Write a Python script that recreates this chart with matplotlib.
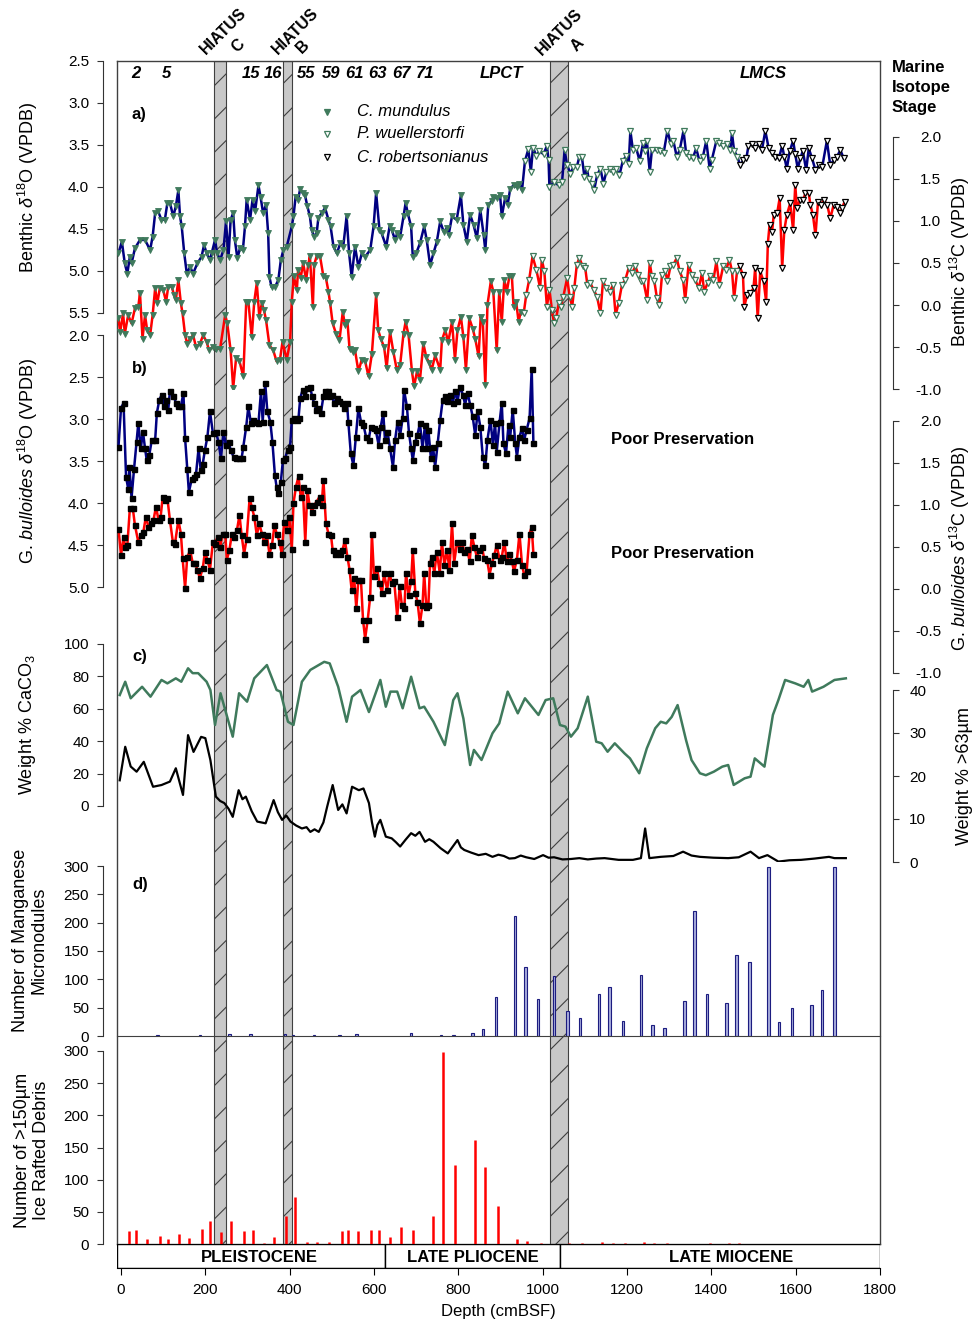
import numpy as np
import matplotlib
matplotlib.use('Agg')
import matplotlib.pyplot as plt
from matplotlib.lines import Line2D

plt.rcParams['font.family'] = ['Liberation Sans', 'DejaVu Sans']
plt.rcParams['mathtext.fontset'] = 'custom'
plt.rcParams['mathtext.rm'] = 'Liberation Sans'
plt.rcParams['mathtext.it'] = 'Liberation Sans:italic'
plt.rcParams['axes.unicode_minus'] = False
plt.rcParams['hatch.linewidth'] = 0.8

# ---------------- data ----------------
# a) benthic d18O
a18_depth = [-6, 2, 9, 15, 21, 25, 33, 45, 57, 69, 75, 81, 88, 96, 104, 110, 116, 124, 130, 136, 140, 144, 150, 156,
             164, 171, 181, 191, 197, 203, 211, 215, 223, 228, 235, 243, 249, 255, 260, 266, 270, 276, 282, 289, 294,
             298, 306, 312, 318, 326, 331, 337, 344, 349, 352, 357, 365, 373, 379, 385, 393, 405, 409, 414, 420, 425,
             431, 436, 442, 448, 452, 458, 464, 468, 476, 484, 492, 497, 504, 512, 520, 527, 535, 541, 547, 555, 563,
             571, 579, 591, 599, 605, 613, 618, 629, 637, 642, 650, 655, 662, 670, 675, 680, 688, 692, 700, 709, 719,
             725, 733, 741, 749, 757, 765, 773, 777, 785, 796, 806, 812, 820, 828, 836, 844, 852, 860, 864, 871, 879,
             883, 891, 899, 903, 911, 917, 923, 931, 939, 945, 951, 958, 966, 972, 977, 985, 992, 1002, 1010, 1014,
             1016, 1027, 1038, 1046, 1052, 1058, 1066, 1073, 1081, 1087, 1093, 1099, 1105, 1109, 1117, 1122, 1129,
             1137, 1144, 1151, 1160, 1166, 1174, 1182, 1190, 1198, 1204, 1208, 1214, 1222, 1230, 1238, 1243, 1247,
             1254, 1259, 1271, 1279, 1287, 1296, 1304, 1310, 1318, 1325, 1334, 1340, 1348, 1356, 1364, 1372, 1380,
             1388, 1396, 1401, 1412, 1419, 1427, 1437, 1445, 1449, 1454, 1462, 1468, 1476, 1483, 1488, 1496, 1504,
             1512, 1520, 1528, 1536, 1544, 1552, 1560, 1568, 1573, 1579, 1586, 1594, 1599, 1605, 1611, 1617, 1625,
             1631, 1639, 1647, 1655, 1663, 1674, 1682, 1690, 1698, 1706, 1714]
a18_value = [4.79, 4.65, 4.91, 5.03, 4.83, 4.91, 4.73, 4.63, 4.63, 4.75, 4.59, 4.31, 4.29, 4.39, 4.39, 4.19, 4.19, 4.35,
             4.23, 4.04, 4.35, 4.47, 4.79, 5.03, 4.95, 5.03, 4.91, 4.83, 4.69, 4.79, 4.87, 4.79, 4.63, 4.79, 4.87, 4.75,
             4.41, 4.83, 4.39, 4.31, 4.63, 4.85, 4.73, 4.75, 4.47, 4.15, 4.39, 4.15, 4.29, 3.98, 4.12, 4.31, 4.21, 4.55,
             5.07, 5.19, 5.19, 5.11, 4.87, 4.75, 4.71, 4.47, 4.35, 4.12, 4.15, 4.02, 4.07, 4.09, 4.23, 4.35, 4.51, 4.59,
             4.55, 4.37, 4.31, 4.25, 4.39, 4.47, 4.71, 4.79, 4.67, 4.71, 4.35, 4.79, 5.07, 4.71, 4.95, 4.79, 4.83, 4.75,
             4.47, 4.07, 4.51, 4.55, 4.71, 4.47, 4.51, 4.63, 4.55, 4.59, 4.35, 4.19, 4.31, 4.47, 4.83, 4.79, 4.67, 4.47,
             4.63, 4.93, 4.79, 4.65, 4.41, 4.53, 4.49, 4.57, 4.35, 4.39, 4.10, 4.45, 4.65, 4.33, 4.45, 4.61, 4.27, 4.57,
             4.75, 4.21, 4.17, 4.12, 4.13, 4.10, 4.35, 4.13, 4.21, 4.02, 3.98, 4.00, 3.96, 4.04, 3.69, 3.55, 3.82, 3.53,
             3.63, 3.57, 3.61, 3.51, 3.68, 4.00, 3.94, 3.98, 3.94, 3.56, 3.74, 3.84, 3.76, 3.76, 3.64, 3.64, 3.88, 3.78,
             3.90, 3.96, 4.04, 3.86, 3.78, 3.96, 3.82, 3.78, 3.82, 3.78, 3.86, 3.69, 3.63, 3.73, 3.33, 3.56, 3.54, 3.69,
             3.48, 3.57, 3.45, 3.82, 3.56, 3.56, 3.57, 3.59, 3.33, 3.49, 3.45, 3.64, 3.56, 3.33, 3.59, 3.64, 3.66, 3.54,
             3.69, 3.64, 3.45, 3.78, 3.68, 3.45, 3.48, 3.51, 3.49, 3.56, 3.36, 3.57, 3.64, 3.74, 3.68, 3.66, 3.51, 3.49,
             3.54, 3.49, 3.56, 3.33, 3.54, 3.59, 3.64, 3.66, 3.51, 3.64, 3.78, 3.57, 3.45, 3.61, 3.78, 3.66, 3.57, 3.80,
             3.54, 3.66, 3.80, 3.74, 3.76, 3.45, 3.74, 3.68, 3.64, 3.56, 3.66]

# a) benthic d13C
a13_depth = [-6, -2, 5, 9, 17, 25, 33, 41, 45, 51, 57, 62, 69, 75, 81, 86, 92, 100, 107, 112, 120, 126, 130, 136, 142,
             146, 152, 157, 164, 171, 178, 187, 195, 203, 209, 217, 225, 235, 247, 252, 260, 266, 273, 281, 290, 297,
             302, 310, 316, 322, 328, 334, 339, 344, 352, 361, 369, 377, 383, 393, 401, 405, 410, 417, 420, 426, 432,
             439, 444, 448, 455, 458, 464, 472, 480, 486, 492, 496, 502, 510, 518, 526, 531, 537, 542, 550, 555, 563,
             571, 579, 587, 595, 605, 610, 616, 624, 630, 638, 646, 654, 662, 670, 675, 682, 690, 695, 702, 709, 717,
             724, 731, 737, 745, 757, 761, 769, 776, 785, 792, 798, 806, 812, 818, 826, 834, 840, 848, 853, 858, 864,
             869, 877, 883, 891, 897, 903, 909, 915, 921, 927, 931, 937, 943, 948, 955, 961, 968, 976, 985, 994, 998,
             1004, 1010, 1016, 1022, 1027, 1032, 1038, 1043, 1049, 1058, 1064, 1070, 1075, 1081, 1087, 1095, 1101,
             1106, 1113, 1121, 1129, 1137, 1143, 1151, 1159, 1167, 1173, 1180, 1188, 1196, 1204, 1212, 1220, 1227,
             1233, 1239, 1248, 1254, 1259, 1265, 1271, 1277, 1283, 1291, 1296, 1303, 1310, 1318, 1325, 1333, 1338,
             1346, 1354, 1362, 1370, 1378, 1383, 1391, 1397, 1405, 1412, 1419, 1428, 1435, 1443, 1449, 1454, 1461,
             1467, 1475, 1478, 1485, 1492, 1500, 1504, 1510, 1516, 1524, 1530, 1534, 1538, 1544, 1548, 1556, 1562,
             1568, 1573, 1579, 1587, 1594, 1599, 1603, 1610, 1618, 1623, 1631, 1635, 1641, 1647, 1653, 1659, 1667,
             1675, 1682, 1690, 1697, 1705, 1710, 1716]
a13_value = [-0.16, -0.32, -0.10, -0.34, -0.12, -0.22, -0.04, -0.02, 0.14, -0.40, -0.12, -0.30, -0.36, -0.12, 0.20,
             0.02, 0.20, 0.18, 0.04, 0.22, 0.22, 0.12, 0.06, 0.30, 0.02, -0.10, -0.36, -0.46, -0.40, -0.36, -0.50,
             -0.46, -0.36, -0.44, -0.54, -0.50, -0.52, -0.52, -0.12, -0.22, -0.54, -0.99, -0.63, -0.67, -0.85, 0.04,
             0.04, -0.38, 0.04, 0.26, -0.14, 0.02, -0.06, -0.18, -0.48, -0.54, -0.67, -0.65, -0.44, -0.65, -0.44, 0.04,
             0.34, 0.18, 0.42, 0.32, 0.50, 0.30, 0.48, 0.58, -0.02, 0.48, 0.58, 0.58, 0.34, 0.32, 0.16, 0.02, -0.22,
             -0.34, -0.42, -0.08, -0.24, -0.20, -0.52, -0.56, -0.54, -0.79, -0.65, -0.67, -0.85, -0.58, 0.12, -0.30,
             -0.40, -0.50, -0.75, -0.32, -0.56, -0.77, -0.71, -0.34, -0.20, -0.36, -0.79, -0.97, -0.79, -0.89, -0.46,
             -0.62, -0.69, -0.77, -0.60, -0.77, -0.42, -0.30, -0.44, -0.20, -0.65, -0.30, -0.14, -0.38, -0.77, -0.16,
             -0.28, -0.40, -0.61, -0.14, -0.20, -0.95, 0.00, 0.28, 0.16, -0.54, 0.16, -0.20, 0.30, 0.16, 0.34, 0.34,
             -0.02, 0.04, -0.20, -0.08, -0.10, 0.12, 0.30, 0.58, 0.42, 0.20, 0.54, 0.40, -0.02, 0.18, -0.06, -0.22,
             -0.16, 0.02, -0.02, 0.10, 0.32, 0.10, -0.02, 0.20, 0.48, 0.56, 0.46, 0.44, 0.24, 0.26, 0.18, 0.10, -0.10,
             0.28, 0.20, 0.16, 0.24, -0.12, 0.02, 0.24, 0.30, 0.44, 0.38, 0.46, 0.36, 0.28, 0.28, 0.06, 0.50, 0.34,
             0.28, 0.08, 0.00, 0.36, 0.40, 0.28, 0.46, 0.48, 0.56, 0.40, 0.30, 0.06, 0.48, 0.36, 0.30, 0.20, 0.38,
             0.16, 0.26, 0.34, 0.30, 0.52, 0.24, 0.46, 0.42, 0.54, 0.40, 0.08, 0.40, 0.46, 0.36, -0.02, 0.12, 0.14,
             0.20, 0.44, -0.16, 0.40, 0.28, 0.04, 0.73, 0.95, 0.87, 1.07, 1.09, 1.27, 0.44, 0.89, 1.07, 1.21, 0.89,
             1.43, 1.15, 1.25, 1.25, 1.33, 1.33, 1.19, 1.07, 0.83, 1.23, 1.19, 1.25, 1.19, 1.03, 1.19, 1.17, 1.09,
             1.15, 1.23]

# b) G. bulloides d18O
b18_depth = [-6, 0, 6, 12, 17, 20, 25, 31, 37, 41, 47, 52, 57, 61, 67, 73, 81, 85, 91, 97, 102, 107, 112, 116, 124,
             131, 136, 142, 148, 152, 157, 161, 168, 173, 178, 184, 189, 194, 199, 205, 211, 218, 225, 231, 237, 243,
             249, 255, 260, 267, 273, 281, 286, 290, 297, 302, 308, 314, 320, 326, 332, 336, 342, 347, 354, 359, 365,
             369, 373, 379, 384, 389, 395, 401, 405, 411, 417, 421, 425, 431, 437, 442, 449, 453, 458, 463, 468, 474,
             480, 484, 490, 494, 500, 505, 512, 518, 524, 529, 536, 539, 545, 551, 557, 563, 569, 575, 581, 587, 593,
             599, 604, 611, 616, 622, 626, 632, 638, 645, 650, 656, 662, 668, 671, 678, 683, 688, 692, 698, 703, 709,
             715, 721, 725, 729, 735, 740, 745, 751, 757, 763, 769, 774, 781, 787, 792, 798, 804, 811, 816, 822, 828,
             834, 840, 846, 852, 858, 864, 869, 876, 882, 887, 891, 898, 903, 907, 913, 919, 923, 929, 935, 939, 945,
             951, 956, 962, 969, 974, 978]
b18_value = [3.33, 2.87, 2.81, 3.69, 3.83, 3.57, 3.94, 3.59, 3.27, 3.05, 3.35, 3.15, 3.35, 3.49, 3.43, 3.25, 3.25,
             2.93, 2.77, 2.71, 2.85, 2.77, 2.89, 2.67, 2.73, 2.81, 2.85, 2.85, 2.69, 3.23, 3.59, 3.87, 3.71, 3.69, 3.65,
             3.35, 3.61, 3.53, 3.37, 3.21, 2.91, 3.17, 3.15, 3.27, 3.47, 3.15, 3.31, 3.27, 3.37, 3.45, 3.47, 3.47, 3.47,
             3.33, 3.09, 2.85, 3.05, 3.01, 3.03, 3.05, 2.67, 3.03, 2.57, 2.91, 3.03, 3.27, 3.67, 3.81, 3.88, 3.75, 3.49,
             3.47, 3.37, 3.33, 3.01, 2.99, 3.01, 2.99, 2.75, 2.65, 2.73, 2.63, 2.62, 2.73, 2.81, 2.89, 2.87, 2.93, 2.73,
             2.67, 2.67, 2.73, 2.71, 2.81, 2.75, 2.79, 2.81, 2.87, 2.81, 3.03, 3.41, 3.55, 3.21, 2.87, 3.03, 3.07, 3.21,
             3.25, 3.09, 3.11, 3.13, 3.31, 3.09, 2.93, 3.25, 3.15, 3.35, 3.57, 3.25, 3.03, 3.19, 2.99, 2.65, 2.85, 3.17,
             3.35, 3.49, 3.27, 3.19, 3.05, 3.35, 3.07, 3.35, 3.13, 3.47, 3.33, 3.57, 3.29, 3.01, 2.77, 2.73, 2.79, 2.71,
             2.81, 2.67, 2.79, 2.62, 2.71, 2.83, 2.69, 2.83, 2.97, 3.19, 2.91, 3.09, 3.45, 3.55, 3.25, 3.01, 3.31, 3.05,
             3.39, 3.03, 2.81, 3.29, 3.41, 3.07, 3.21, 2.89, 3.29, 3.45, 3.21, 3.11, 3.25, 3.13, 2.99, 2.40, 3.29]

# b) G. bulloides d13C
b13_depth = [-6, 0, 6, 10, 15, 21, 28, 33, 41, 47, 53, 59, 65, 71, 77, 83, 89, 94, 99, 104, 110, 116, 123, 128, 136,
             142, 146, 152, 157, 164, 170, 176, 181, 187, 194, 199, 205, 211, 218, 223, 229, 235, 241, 247, 251, 257,
             263, 268, 275, 281, 286, 292, 298, 305, 310, 316, 322, 328, 334, 339, 346, 352, 358, 364, 369, 376, 381,
             387, 393, 399, 405, 409, 415, 421, 426, 431, 437, 442, 447, 453, 458, 464, 471, 476, 480, 486, 492, 498,
             502, 508, 514, 520, 525, 531, 537, 542, 547, 553, 558, 563, 569, 574, 579, 585, 591, 595, 600, 607, 613,
             619, 624, 631, 637, 642, 648, 655, 661, 666, 672, 676, 682, 688, 692, 698, 703, 709, 715, 719, 724, 729,
             733, 737, 743, 749, 756, 761, 767, 773, 779, 785, 790, 797, 803, 809, 814, 820, 827, 832, 838, 844, 850,
             856, 861, 868, 874, 880, 885, 891, 898, 903, 909, 915, 921, 927, 932, 939, 945, 951, 956, 962, 969, 974,
             978]
b13_value = [0.72, 0.40, 0.62, 0.50, 0.52, 0.96, 0.96, 0.76, 0.56, 0.64, 0.68, 0.86, 0.74, 0.78, 0.82, 0.98, 0.82,
             0.86, 1.10, 1.06, 1.08, 0.82, 0.56, 0.54, 0.82, 0.66, 0.37, 0.01, 0.38, 0.46, 0.31, 0.31, 0.23, 0.13, 0.25,
             0.44, 0.35, 0.23, 0.56, 0.54, 0.62, 0.50, 0.66, 0.66, 0.35, 0.46, 0.66, 0.62, 0.70, 0.88, 0.64, 0.42, 0.60,
             1.08, 0.98, 0.86, 0.64, 0.78, 0.66, 0.56, 0.64, 0.42, 0.52, 0.76, 0.66, 0.56, 0.42, 0.80, 0.70, 0.86, 0.48,
             1.02, 1.22, 1.34, 1.10, 1.22, 0.56, 1.18, 1.00, 0.92, 1.00, 1.04, 1.10, 1.00, 1.30, 0.78, 0.66, 0.64, 0.46,
             0.42, 0.44, 0.42, 0.46, 0.58, 0.38, 0.23, -0.01, 0.13, -0.23, 0.11, 0.11, -0.37, -0.59, -0.37, -0.09, 0.66,
             0.15, 0.25, 0.07, -0.05, 0.19, -0.01, 0.19, 0.07, 0.09, -0.33, 0.03, -0.19, -0.23, 0.19, -0.07, 0.09, 0.46,
             -0.05, -0.15, -0.41, -0.19, 0.19, -0.21, -0.19, 0.31, 0.38, 0.19, 0.44, 0.19, 0.56, 0.29, 0.46, 0.23, 0.78,
             0.31, 0.56, 0.48, 0.56, 0.44, 0.48, 0.33, 0.64, 0.50, 0.38, 0.46, 0.50, 0.37, 0.35, 0.17, 0.31, 0.40, 0.52,
             0.35, 0.38, 0.56, 0.33, 0.42, 0.33, 0.21, 0.35, 0.66, 0.29, 0.17, 0.21, 0.66, 0.74, 0.42]

# c) weight % CaCO3 and weight % >63 um
caco3_depth = [-3, 10, 23, 50, 70, 96, 110, 130, 143, 159, 170, 183, 203, 212, 223, 236, 265, 280, 299, 316, 346, 369,
               378, 396, 409, 429, 449, 482, 495, 515, 535, 548, 568, 588, 615, 628, 639, 655, 668, 688, 708, 719, 741,
               768, 788, 798, 812, 828, 837, 855, 881, 897, 917, 941, 958, 990, 1007, 1025, 1034, 1041, 1054, 1067,
               1083, 1107, 1127, 1140, 1154, 1171, 1194, 1207, 1229, 1247, 1267, 1280, 1293, 1306, 1320, 1340, 1353,
               1373, 1387, 1406, 1426, 1440, 1453, 1479, 1493, 1503, 1526, 1546, 1559, 1575, 1599, 1619, 1630, 1639,
               1666, 1692, 1719]
caco3_value = [68.5, 76.7, 66.5, 73.6, 67.5, 77.8, 75.7, 78.8, 76.7, 85, 82, 82, 76.7, 71.6, 50, 69.6, 42.8, 69.6,
               64.4, 78.8, 87, 71.6, 70.6, 52, 50, 76.7, 84, 89, 88, 73.6, 52, 67.5, 71.6, 58, 77.8, 61.3, 70.6, 70.6,
               60.3, 79.8, 60.3, 61.3, 52, 37.6, 65.4, 69.6, 54, 25.3, 34.6, 28.4, 44.9, 51, 70.6, 57.2, 66.5, 56.2,
               65.4, 66.5, 57.2, 50, 49, 42.8, 48, 67.5, 39.7, 38.7, 33.5, 38.7, 32.5, 29.4, 20.2, 35.6, 48, 52, 51, 55,
               62.3, 40.7, 28.4, 20.2, 19, 21.2, 24.3, 25.3, 13, 17.1, 18.1, 29.4, 24.3, 56.2, 65.4, 77.8, 75.7, 73.6,
               77.8, 70.6, 73.6, 77.8, 78.8]
coarse_depth = [-3, 10, 23, 37, 54, 76, 96, 116, 130, 147, 159, 172, 190, 200, 212, 225, 235, 245, 255, 265, 279, 288,
                296, 310, 323, 343, 362, 372, 382, 392, 402, 415, 429, 440, 449, 459, 469, 480, 489, 502, 515, 525, 535,
                548, 564, 575, 588, 595, 602, 608, 615, 628, 642, 652, 662, 675, 688, 698, 708, 721, 731, 741, 758,
                775, 798, 806, 814, 830, 848, 865, 881, 895, 908, 921, 934, 948, 961, 980, 1001, 1014, 1027, 1047,
                1067, 1087, 1107, 1127, 1147, 1180, 1214, 1233, 1243, 1253, 1280, 1310, 1333, 1353, 1373, 1405, 1440,
                1465, 1493, 1513, 1533, 1559, 1585, 1613, 1645, 1679, 1692, 1719]
coarse_value = [19, 26.8, 22.2, 21, 23.3, 17.5, 17.9, 18.7, 21.8, 15.6, 29.5, 25.6, 29.1, 28.8, 23.7, 15.2, 14.2, 13.7,
                12.4, 10.5, 16.7, 14.6, 15.2, 11.8, 9.4, 9, 14.4, 11.6, 9.8, 10.8, 9.4, 8.5, 7.8, 8.1, 7, 7.6, 7, 9.2,
                12.9, 17.9, 12.1, 13.4, 11.3, 17.5, 16.7, 17.1, 13.7, 9.3, 5.9, 8.6, 9.8, 5.9, 5.5, 4.6, 3.6, 5.2, 6.7,
                6.1, 7, 4.7, 5.3, 4.7, 3.2, 2, 5.1, 3.4, 2.8, 2.2, 1.6, 1.9, 1.2, 1.7, 1.4, 0.8, 0.9, 1.5, 1.1, 0.7,
                1.6, 1.0, 1.1, 0.6, 0.7, 0.9, 0.6, 0.8, 0.9, 0.5, 0.5, 0.9, 7.8, 0.9, 1.2, 1.4, 2.4, 1.5, 1.2, 1.0, 0.9,
                1.1, 2.4, 0.9, 1.6, 0.1, 0.4, 0.5, 0.8, 1.2, 0.9, 0.9]

# d) manganese micronodules
mn_depth = [87, 187, 257, 307, 389, 408, 458, 518, 558, 688, 759, 789, 833, 858, 889, 934, 959, 989, 1027, 1059, 1088,
            1134, 1159, 1190, 1233, 1260, 1289, 1336, 1360, 1390, 1436, 1460, 1490, 1535, 1561, 1591, 1637, 1662, 1692]
mn_count = [2, 1, 4, 4, 4, 2, 2, 1, 4, 5, 2, 1, 5, 12, 68, 212, 121, 66, 106, 44, 32, 75, 86, 27, 107, 20, 15, 61,
            220, 74, 58, 143, 130, 299, 24, 50, 55, 82, 299]

# e) ice rafted debris
ird_depth = [18, 36, 62, 92, 112, 138, 162, 191, 211, 238, 262, 292, 313, 338, 362, 392, 412, 440, 465, 493, 523, 539,
             563, 594, 612, 639, 663, 692, 739, 763, 793, 840, 864, 893, 940, 963, 995, 1063, 1094, 1140, 1166, 1195,
             1241, 1265, 1295, 1396, 1441, 1465]
ird_count = [20.5, 21.5, 7.5, 12.7, 7.5, 16, 10, 24, 36, 19, 35, 19.5, 21, 2, 11.5, 44, 73, 3.5, 2.5, 3.5, 19.5, 21,
             19.5, 21, 21, 11.5, 27, 22, 44, 298, 123, 161, 119, 59, 7.5, 4, 1.5, 2, 1, 3.5, 1.5, 1.5, 3.5, 1.5, 2, 1,
             1, 1]

hiatus_names = ['C', 'B', 'A']
hiatus_top = [221, 385, 1017]
hiatus_bottom = [248, 405, 1059]

epoch_names = ['PLEISTOCENE', 'LATE PLIOCENE', 'LATE MIOCENE']
epoch_bounds = [-9.5, 625, 1041, 1800]
epoch_label_depth = [327, 835, 1447]

mis_labels = ['2', '5', '15', '16', '55', '59', '61', '63', '67', '71', 'LPCT', 'LMCS']
mis_depth = [36, 107, 309, 361, 440, 499, 553, 608, 665, 722, 902, 1524]

# ---------------- layout helpers ----------------
W, H = 979, 1325
X0, X1 = 117, 880
XMIN, XMAX = -9.5, 1800

NAVY = '#000080'
GREEN = '#3f7a5c'

fig = plt.figure(figsize=(W / 100, H / 100), dpi=100)


def panel(y0, y1):
    ax = fig.add_axes([X0 / W, 1 - y1 / H, (X1 - X0) / W, (y1 - y0) / H])
    ax.patch.set_visible(False)
    ax.set_xlim(XMIN, XMAX)
    ax.set_xticks([])
    for s in ax.spines.values():
        s.set_visible(False)
    return ax


def left_axis(ax, ticks, fmt):
    ax.spines['left'].set_visible(True)
    ax.spines['left'].set_position(('outward', 10))
    ax.spines['left'].set_color('#333333')
    ax.set_yticks(ticks)
    ax.set_yticklabels([fmt % t for t in ticks])
    ax.tick_params(axis='y', direction='out', length=4.5, width=0.8, labelsize=11, pad=5.5, color='#333333')


def right_axis(ax, ticks, fmt, right_align=False):
    ax.yaxis.tick_right()
    ax.spines['right'].set_visible(True)
    ax.spines['right'].set_position(('outward', 9.5))
    ax.spines['right'].set_color('#333333')
    ax.set_yticks(ticks)
    ax.set_yticklabels([fmt % t for t in ticks])
    ax.tick_params(axis='y', direction='out', length=4.5, width=0.8, labelsize=11,
                   pad=30 if right_align else 7, color='#333333')
    if right_align:
        for lab in ax.get_yticklabels():
            lab.set_horizontalalignment('right')


def ftext(px, py, s, **kw):
    fig.text(px / W, 1 - py / H, s, **kw)


# frame with hiatus bars (drawn first, below data)
frame = panel(61, 1244)
frame.set_ylim(0, 1)
frame.set_yticks([])
for s in frame.spines.values():
    s.set_visible(True)
    s.set_color('#404040')
    s.set_linewidth(1.0)
for a, b in zip(hiatus_top, hiatus_bottom):
    frame.axvspan(a, b, facecolor='#c8c8c8', edgecolor='#404040', hatch='/', linewidth=0.8)

# a) benthic isotopes
ax_a18 = panel(61, 313)
ax_a18.set_ylim(5.5, 2.5)
left_axis(ax_a18, np.arange(2.5, 5.51, 0.5), '%.1f')
ax_a13 = panel(137, 389)
ax_a13.set_ylim(-1.0, 2.0)
right_axis(ax_a13, np.arange(-1.0, 2.01, 0.5), '%.1f', right_align=True)

ax_a18.plot(a18_depth, a18_value, color=NAVY, lw=1.8, zorder=2)
ax_a13.plot(a13_depth, a13_value, color='red', lw=1.8, zorder=2)


def species_markers(ax, depth, value):
    d = np.array(depth)
    v = np.array(value)
    m1 = d < 955
    m2 = (d >= 955) & (d < 1465)
    m3 = d >= 1465
    ax.plot(d[m1], v[m1], ls='none', marker='v', ms=4.6, mfc=GREEN, mec=GREEN, mew=0.6, zorder=3)
    ax.plot(d[m2], v[m2], ls='none', marker='v', ms=4.8, mfc='white', mec=GREEN, mew=0.9, zorder=3)
    ax.plot(d[m3], v[m3], ls='none', marker='v', ms=4.8, mfc='white', mec='black', mew=0.9, zorder=3)


species_markers(ax_a18, a18_depth, a18_value)
species_markers(ax_a13, a13_depth, a13_value)

# b) planktonic isotopes
ax_b18 = panel(335, 587)
ax_b18.set_ylim(5.0, 2.0)
left_axis(ax_b18, np.arange(2.0, 5.01, 0.5), '%.1f')
ax_b13 = panel(421, 673)
ax_b13.set_ylim(-1.0, 2.0)
right_axis(ax_b13, np.arange(-1.0, 2.01, 0.5), '%.1f', right_align=True)
ax_b18.plot(b18_depth, b18_value, color=NAVY, lw=1.8, marker='s', ms=3.6, mfc='black', mec='black')
ax_b13.plot(b13_depth, b13_value, color='red', lw=1.8, marker='s', ms=3.6, mfc='black', mec='black')

# c) carbonate and coarse fraction
ax_c1 = panel(644, 806)
ax_c1.set_ylim(0, 100)
left_axis(ax_c1, np.arange(0, 101, 20), '%d')
ax_c2 = panel(690, 862)
ax_c2.set_ylim(0, 40)
right_axis(ax_c2, np.arange(0, 41, 10), '%d')
ax_c1.plot(caco3_depth, caco3_value, color=GREEN, lw=1.8)
ax_c2.plot(coarse_depth, coarse_value, color='black', lw=1.6)

# d) manganese micronodules
ax_d = panel(866, 1036)
ax_d.set_ylim(0, 300)
left_axis(ax_d, np.arange(0, 301, 50), '%d')
ax_d.spines['bottom'].set_visible(True)
ax_d.spines['bottom'].set_color('#404040')
ax_d.bar(mn_depth, mn_count, width=6, facecolor='#a8acdc', edgecolor='#1c1c80', linewidth=0.8)

# e) ice rafted debris
ax_e = panel(1051, 1244)
ax_e.set_ylim(0, 300)
left_axis(ax_e, np.arange(0, 301, 50), '%d')
ax_e.vlines(ird_depth, 0, ird_count, color='#ff0000', linewidth=1.8)

# epoch bar and depth axis
ax_ep = panel(1244, 1268)
ax_ep.set_ylim(0, 1)
ax_ep.set_yticks([])
for i, name in enumerate(epoch_names):
    lo, hi = epoch_bounds[i], epoch_bounds[i + 1]
    ax_ep.axvspan(lo, hi, facecolor='white', edgecolor='black', linewidth=1.0)
    ax_ep.text(epoch_label_depth[i], 0.45, name, ha='center', va='center', fontsize=12, fontweight='bold')
ax_ep.spines['bottom'].set_visible(True)
ax_ep.set_xticks(np.arange(0, 1801, 200))
ax_ep.tick_params(axis='x', direction='out', length=5, width=0.8, labelsize=11, pad=6)
ax_ep.set_xlabel('Depth (cmBSF)', fontsize=12, labelpad=5)

# ---------------- annotations ----------------
hiatus_word_px = [(223, 31), (295, 31), (559, 32)]
hiatus_letter_px = [(238, 46), (303, 47), (577, 45)]
for name, (wx, wy), (lx, ly) in zip(hiatus_names, hiatus_word_px, hiatus_letter_px):
    ftext(wx, wy, 'HIATUS', rotation=45, rotation_mode='anchor', ha='center', va='center', fontsize=11.5,
          fontweight='bold')
    ftext(lx, ly, name, rotation=45, rotation_mode='anchor', ha='center', va='center', fontsize=11.5,
          fontweight='bold')

for lab, d in zip(mis_labels, mis_depth):
    ftext(121 + d * 0.4215, 74, lab, ha='center', va='center', fontsize=12, fontweight='bold', fontstyle='italic')

ftext(892, 60, 'Marine\nIsotope\nStage', ha='left', va='top', fontsize=12, fontweight='bold', linespacing=1.4)

ftext(132, 115, 'a)', ha='left', va='center', fontsize=12, fontweight='bold')
ftext(132, 368, 'b)', ha='left', va='center', fontsize=12, fontweight='bold')
ftext(132, 656, 'c)', ha='left', va='center', fontsize=12, fontweight='bold')
ftext(132, 884, 'd)', ha='left', va='center', fontsize=12, fontweight='bold')

ftext(683, 439, 'Poor Preservation', ha='center', va='center', fontsize=12, fontweight='bold')
ftext(683, 554, 'Poor Preservation', ha='center', va='center', fontsize=12, fontweight='bold')

# legend for benthic species
leg_rows = [(112, 'C. mundulus', GREEN, GREEN), (134, 'P. wuellerstorfi', 'white', GREEN),
            (157, 'C. robertsonianus', 'white', 'black')]
for py, lab, fc, ec in leg_rows:
    fig.add_artist(Line2D([327 / W], [1 - py / H], transform=fig.transFigure, ls='none', marker='v', ms=4.8,
                          mfc=fc, mec=ec, mew=0.9))
    ftext(357, py, lab, ha='left', va='center', fontsize=12, fontstyle='italic')

# axis titles
ftext(28, 187, r'Benthic $\delta^{18}$O (VPDB)', rotation=90, ha='center', va='center', fontsize=13)
ftext(28, 461, r'G. $\mathit{bulloides}$ $\delta^{18}$O (VPDB)', rotation=90, ha='center', va='center', fontsize=13)
ftext(28, 725, r'Weight % CaCO$_3$', rotation=90, ha='center', va='center', fontsize=13)
ftext(30, 940, 'Number of Manganese\nMicronodules', rotation=90, ha='center', va='center', fontsize=13,
      linespacing=1.15)
ftext(32, 1150, 'Number of >150µm\nIce Rafted Debris', rotation=90, ha='center', va='center', fontsize=13,
      linespacing=1.15)
ftext(960, 262, r'Benthic $\delta^{13}$C (VPDB)', rotation=90, ha='center', va='center', fontsize=13)
ftext(960, 548, r'G. $\mathit{bulloides}$ $\delta^{13}$C (VPDB)', rotation=90, ha='center', va='center', fontsize=13)
ftext(965, 776, 'Weight % >63µm', rotation=90, ha='center', va='center', fontsize=13)

fig.savefig('out.png', dpi=100)
